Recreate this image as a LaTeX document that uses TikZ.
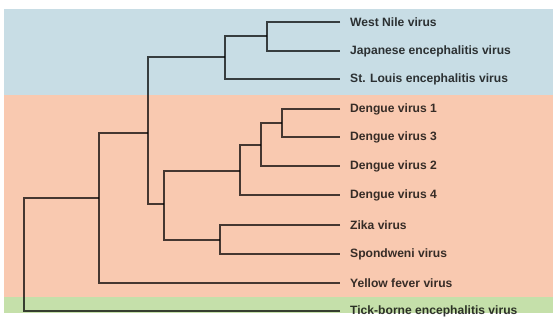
\documentclass[tikz,border=0pt]{standalone}
\usepackage{fontspec}
\setmainfont{Liberation Sans}
\usetikzlibrary{positioning}

\definecolor{bandblue}{HTML}{C8DDE5}
\definecolor{bandorange}{HTML}{F9C9B0}
\definecolor{bandgreen}{HTML}{C5E0AA}

\begin{document}
\begin{tikzpicture}[
    x=1pt, y=-1pt,
    branch/.style={draw=black, opacity=0.72, line width=1.4pt},
    leaf/.style={anchor=west, inner xsep=10pt, inner ysep=0pt, text opacity=0.78,
                 font=\fontsize{12.1}{14}\selectfont\bfseries}
]

\useasboundingbox (0,0) rectangle (555,322);

% === Background bands ===
\fill[bandblue] (4,9) rectangle (553,95);
\fill[bandorange] (4,95) rectangle (553,297);
\fill[bandgreen] (4,297) rectangle (553,313);

% === Leaves ===
\node[leaf] (wnv)  at (340,22)  {West Nile virus};
\node[leaf] (jev)  at (340,51)  {Japanese encephalitis virus};
\node[leaf] (slev) at (340,79)  {St. Louis encephalitis virus};
\node[leaf] (den1) at (340,109) {Dengue virus 1};
\node[leaf] (den3) at (340,137) {Dengue virus 3};
\node[leaf] (den2) at (340,166) {Dengue virus 2};
\node[leaf] (den4) at (340,195) {Dengue virus 4};
\node[leaf] (zikv) at (340,225) {Zika virus};
\node[leaf] (spov) at (340,254) {Spondweni virus};
\node[leaf] (yfv)  at (340,283) {Yellow fever virus};
\node[leaf] (tbev) at (340,311) {Tick-borne encephalitis virus};

% === Internal nodes ===
\coordinate (wnje)   at (267,36);
\coordinate (jeg)    at (225,57);
\coordinate (d13)    at (282,123);
\coordinate (d132)   at (261,145);
\coordinate (denv)   at (240,171);
\coordinate (zisp)   at (220,240);
\coordinate (dezi)   at (164,204);
\coordinate (mosq)   at (148,133);
\coordinate (yfmos)  at (99,198);
\coordinate (root)   at (24,255);

% === Branches ===
\draw[branch] (wnv.west) -| (wnje) |- (jev.west);
\draw[branch] (wnje) -| (jeg) |- (slev.west);
\draw[branch] (den1.west) -| (d13) |- (den3.west);
\draw[branch] (d13) -| (d132) |- (den2.west);
\draw[branch] (d132) -| (denv) |- (den4.west);
\draw[branch] (zikv.west) -| (zisp) |- (spov.west);
\draw[branch] (denv) -| (dezi) |- (zisp);
\draw[branch] (jeg) -| (mosq) |- (dezi);
\draw[branch] (mosq) -| (yfmos) |- (yfv.west);
\draw[branch] (yfmos) -| (root) |- (tbev.west);

\end{tikzpicture}
\end{document}
